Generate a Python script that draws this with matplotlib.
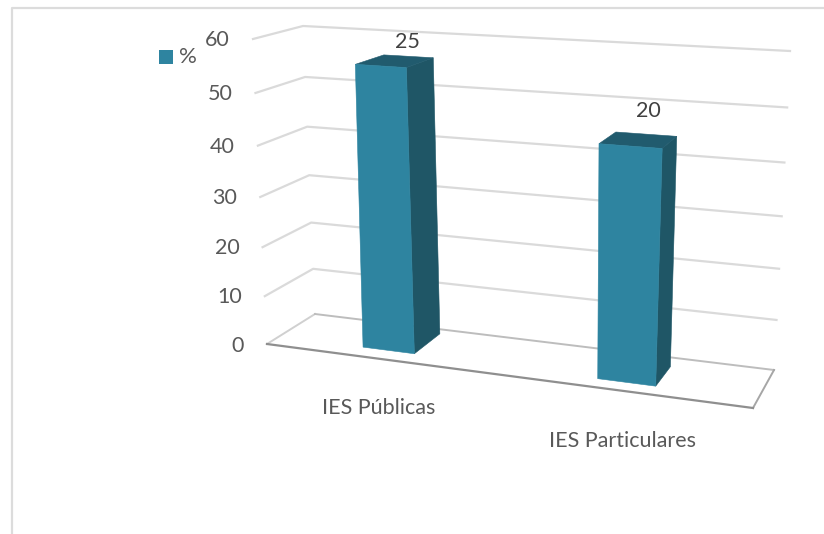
import numpy as np
import matplotlib
matplotlib.use("Agg")
import matplotlib.pyplot as plt

# Chart data
categories = ["IES Públicas", "IES Particulares"]
counts = [25, 20]
percent = [55.6, 44.4]
axis_ticks = [0, 10, 20, 30, 40, 50, 60]
series_name = "%"

# Bar footprint on the floor (fractions of floor width and depth)
bar_centres = [0.25, 0.75]
bar_half_width = 0.057
bar_front = [0.245, 0.215]
bar_back = [0.87, 0.75]
BAR_LEAN = 8  # sideways drift of a bar between the floor and the 60 plane

# Screen corners of the floor and of the 60 plane: front-left, front-right, back-right, back-left
FLOOR = [(267, 344), (753, 408), (774, 370), (315, 314)]
CEILING = [(253, 39), (772, 70), (790, 51), (303, 26)]
Z_MAX = 60
Z_CURVE = 0.075

FRONT = "#2E84A0"
SIDE = "#1F5666"
TOP = "#215B6E"
GRID = "#DADADA"
TEXT = "#595959"
FONT = ["Lato", "DejaVu Sans"]


def homography(dst):
    src = [(0, 0), (1, 0), (1, 1), (0, 1)]
    rows, rhs = [], []
    for (a, b), (x, y) in zip(src, dst):
        rows.append([a, b, 1, 0, 0, 0, -a * x, -b * x])
        rhs.append(x)
        rows.append([0, 0, 0, a, b, 1, -a * y, -b * y])
        rhs.append(y)
    sol = np.linalg.solve(np.array(rows, float), np.array(rhs, float))
    return np.append(sol, 1).reshape(3, 3)


H_FLOOR = homography(FLOOR)
H_CEIL = homography(CEILING)


def apply(h, u, v):
    q = h @ np.array([u, v, 1.0])
    return q[:2] / q[2]


def project(u, v, z, lean=0):
    """Perspective position of floor point (u, v) at axis value z."""
    s = z / Z_MAX
    t = s / (1 + Z_CURVE * (1 - s))
    x, y = (1 - t) * apply(H_FLOOR, u, v) + t * apply(H_CEIL, u, v)
    return (x + lean * t, y)


fig = plt.figure(figsize=(8.24, 5.34), dpi=100, facecolor="white")
ax = fig.add_axes([0, 0, 1, 1])
ax.set_xlim(0, 824)
ax.set_ylim(534, 0)
ax.axis("off")

# Outer frame: top and left edges only
ax.plot([12, 12, 824], [534, 8, 8], color="#DCDCDC", lw=1.6, zorder=1)

# Gridlines run up the left wall and across the back wall
for tick in axis_ticks:
    front = project(0, 0, tick)
    corner = project(0, 1, tick)
    back_right = project(1, 1, tick)
    if tick == 0:
        continue
    xs, ys = zip(front, corner, back_right)
    ax.plot(xs, ys, color=GRID, lw=1.6, zorder=2, solid_joinstyle="round")
    ax.text(front[0] - 23, front[1] + 1, str(tick), ha="right", va="center",
            fontsize=15.5, color=TEXT, family=FONT)

# Floor outline
fl, fr, br, bl = (project(*c, 0) for c in [(0, 0), (1, 0), (1, 1), (0, 1)])
ax.plot(*zip(fl, bl), color="#D0D0D0", lw=1.4, zorder=2)
ax.plot(*zip(bl, br), color="#BDBDBD", lw=1.4, zorder=2)
ax.plot(*zip(br, fr), color="#A6A6A6", lw=1.4, zorder=2)
ax.plot(*zip(fl, fr), color="#8F8F8F", lw=1.6, zorder=2)
ax.text(fl[0] - 23, fl[1] + 2, "0", ha="right", va="center", fontsize=15.5, color=TEXT, family=FONT)

# Bars: side, top and front faces
label_offsets = [(13, -19), (10, -29)]
for i, value in enumerate(percent):
    u0, u1 = bar_centres[i] - bar_half_width, bar_centres[i] + bar_half_width
    v0, v1 = bar_front[i], bar_back[i]
    side = [project(u1, v0, 0), project(u1, v1, 0),
            project(u1, v1, value, BAR_LEAN), project(u1, v0, value, BAR_LEAN)]
    top = [project(u0, v0, value, BAR_LEAN), project(u1, v0, value, BAR_LEAN),
           project(u1, v1, value, BAR_LEAN), project(u0, v1, value, BAR_LEAN)]
    front = [project(u0, v0, 0), project(u1, v0, 0),
             project(u1, v0, value, BAR_LEAN), project(u0, v0, value, BAR_LEAN)]
    for face, colour in [(side, SIDE), (top, TOP), (front, FRONT)]:
        ax.fill(*zip(*face), color=colour, lw=0.4, zorder=3)
    cx = np.mean([p[0] for p in top]) + label_offsets[i][0]
    cy = np.mean([p[1] for p in top]) + label_offsets[i][1]
    ax.text(cx, cy, str(counts[i]), ha="center", va="center", fontsize=15.5, color="#404040", family=FONT)

# Category labels hang below the floor's front edge
label_shift = [(1.5, 49), (2.5, 51)]
for i, name in enumerate(categories):
    base = project(bar_centres[i], 0, 0)
    ax.text(base[0] + label_shift[i][0], base[1] + label_shift[i][1], name, ha="center", va="center",
            fontsize=15.5, color=TEXT, family=FONT)

# Legend
ax.scatter([166], [57], marker="s", s=105, color=FRONT, linewidths=0, zorder=4)
ax.text(179, 57, series_name, ha="left", va="center", fontsize=16, color=TEXT, family=FONT)

fig.savefig("out.png", dpi=100, facecolor="white")
